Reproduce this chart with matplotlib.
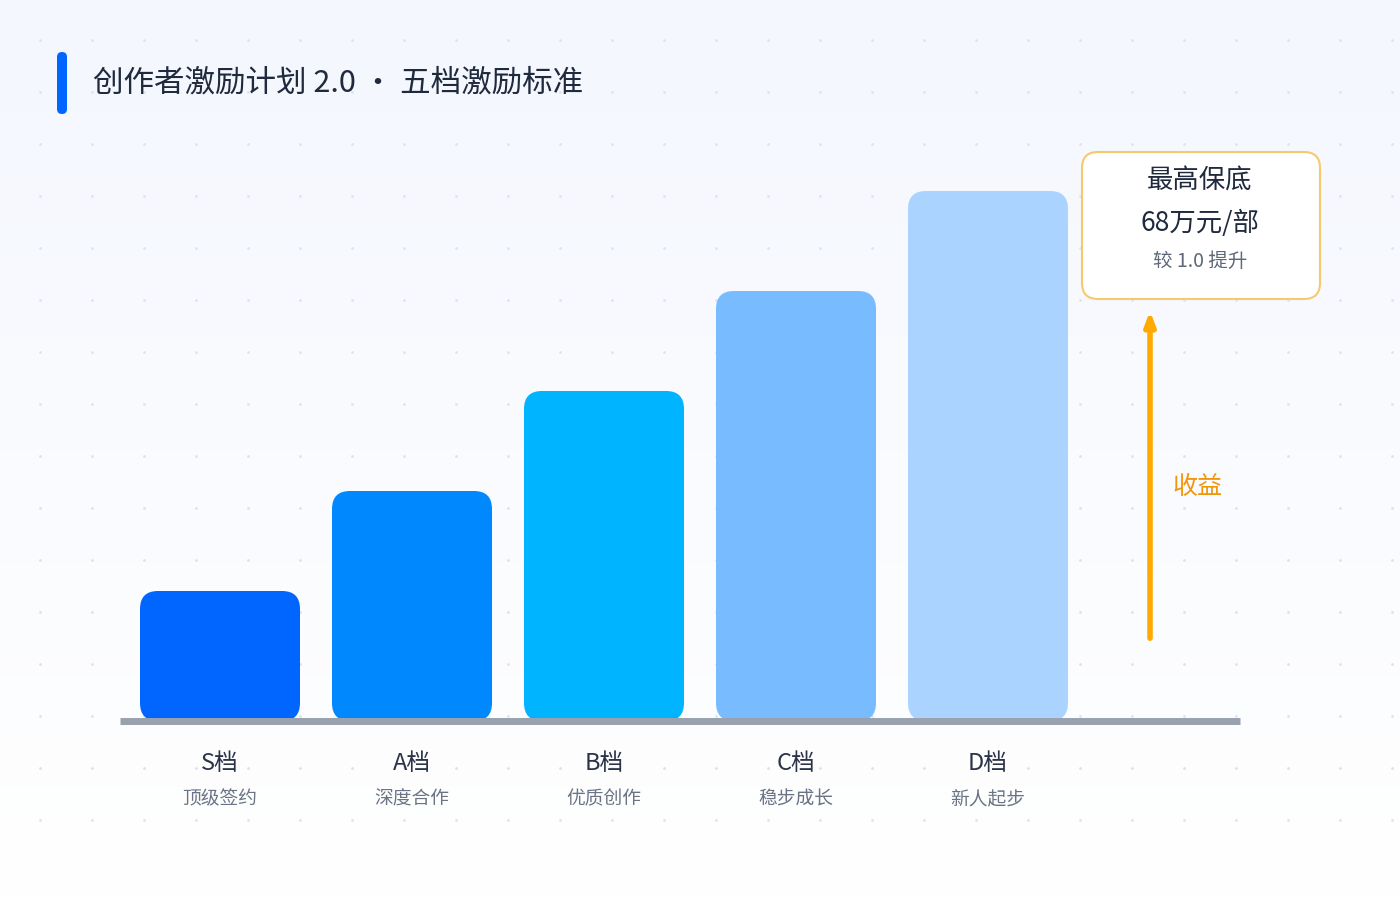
import matplotlib
matplotlib.use("Agg")
import matplotlib.pyplot as plt
import numpy as np
from matplotlib.patches import FancyBboxPatch, Rectangle

plt.rcParams['font.family'] = ['Noto Sans CJK SC', 'DejaVu Sans']

tiers = ["S档", "A档", "B档", "C档", "D档"]
subs = ["顶级签约", "深度合作", "优质创作", "稳步成长", "新人起步"]
values = [130, 230, 330, 430, 530]
colors = ["#0066FF", "#0088FF", "#00B4FF", "#78BCFF", "#AAD4FF"]
title = "创作者激励计划 2.0 · 五档激励标准"

fig = plt.figure(figsize=(14, 9), dpi=100)
ax = fig.add_axes([0, 0, 1, 1])
ax.set_xlim(0, 1400)
ax.set_ylim(900, 0)
ax.axis("off")

# background gradient
grad = np.linspace(0, 1, 256).reshape(-1, 1)
from matplotlib.colors import LinearSegmentedColormap
cm = LinearSegmentedColormap.from_list("bg", ["#F4F7FE", "#FFFFFF"])
ax.imshow(grad, cmap=cm, extent=[0, 1400, 900, 0], aspect="auto", zorder=0)
# dots
gx, gy = np.meshgrid(np.arange(40, 1400, 52), np.arange(40, 830, 52))
ax.scatter(gx.ravel(), gy.ravel(), s=4, color="#DCE3EF", zorder=1, linewidths=0)

# title
ax.add_patch(FancyBboxPatch((57, 52), 10, 62, boxstyle="round,pad=0,rounding_size=5",
                            fc="#0066FF", ec="none", zorder=3))
ax.text(93, 83, title, fontsize=22, color="#1F2A3D", va="center", ha="left", zorder=3)

base = 721
x0, w, step = 140, 160, 192
for i, (v, c) in enumerate(zip(values, colors)):
    x = x0 + i * step
    ax.add_patch(FancyBboxPatch((x, base - v), w, v, boxstyle="round,pad=0,rounding_size=18",
                                fc=c, ec="none", zorder=3))
    ax.text(x + w / 2, 763, tiers[i], fontsize=17, color="#2A3347", ha="center", va="center", zorder=3)
    ax.text(x + w / 2, 799, subs[i], fontsize=13.5, color="#6B7485", ha="center", va="center", zorder=3)

ax.plot([120, 1240], [base, base], color="#9AA1AE", lw=5, zorder=4, solid_capstyle="butt")

# annotation box
ax.add_patch(FancyBboxPatch((1082, 152), 238, 147, boxstyle="round,pad=0,rounding_size=16",
                            fc="white", ec="#F7C96E", lw=1.5, zorder=3))
ax.text(1200, 181, "最高保底", fontsize=19, color="#1F2A3D", ha="center", va="center", zorder=4)
ax.text(1200, 223, "68万元/部", fontsize=19, color="#1F2A3D", ha="center", va="center", zorder=4)
ax.text(1200, 261, "较 1.0 提升", fontsize=14, color="#5F6878", ha="center", va="center", zorder=4)

ax.annotate("", xy=(1150, 308), xytext=(1150, 641),
            arrowprops=dict(arrowstyle="-|>,head_length=0.8,head_width=0.3", color="#FFAA00", lw=4),
            zorder=4)
ax.text(1172, 487, "收益", fontsize=18, color="#F0960A", ha="left", va="center", zorder=4)

fig.savefig("out.png", dpi=100)
